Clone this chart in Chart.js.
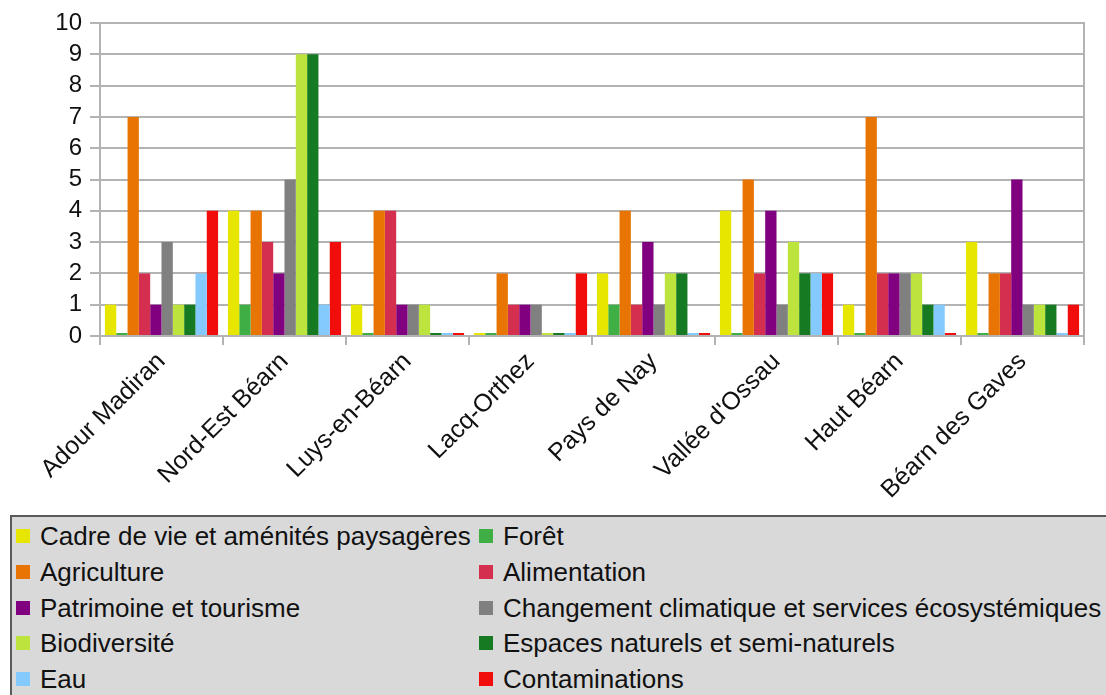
<!DOCTYPE html>
<html>
<head>
<meta charset="utf-8">
<script src="https://cdn.jsdelivr.net/npm/chart.js@4"></script>
<style>
  body { margin: 0; background: #fff; width: 1106px; height: 695px; overflow: hidden; position: relative; font-family: "Liberation Sans", Arial, sans-serif; }
  #wrap { position: absolute; left: 0; top: 0; width: 1106px; height: 512px; }
  #legend {
    position: absolute; left: 10px; top: 515px; width: 1110px; height: 200px;
    background: #d9d9d9; border: 2px solid #5a5a5a; box-sizing: border-box;
  }
  .item { position: absolute; font-size: 26px; color: #111; line-height: 30px; white-space: nowrap; }
  .item span { position: absolute; left: -24px; top: 8px; width: 14px; height: 14px; }
</style>
</head>
<body>
<div id="wrap"><canvas id="myChart"></canvas></div>
<div id="legend"></div>
<script>
const categories = ["Adour Madiran","Nord-Est Béarn","Luys-en-Béarn","Lacq-Orthez","Pays de Nay","Vallée d'Ossau","Haut Béarn","Béarn des Gaves"];

const cadreDeVie      = [1,4,1,0,2,4,1,3];
const foret           = [0,1,0,0,1,0,0,0];
const agriculture     = [7,4,4,2,4,5,7,2];
const alimentation    = [2,3,4,1,1,2,2,2];
const patrimoine      = [1,2,1,1,3,4,2,5];
const changementClim  = [3,5,1,1,1,1,2,1];
const biodiversite    = [1,9,1,0,2,3,2,1];
const espacesNaturels = [1,9,0,0,2,2,1,1];
const eau             = [2,1,0,0,0,2,1,0];
const contaminations  = [4,3,0,2,0,2,0,1];

const yTicks = [0,1,2,3,4,5,6,7,8,9,10];

const series = [
  { label: "Cadre de vie et aménités paysagères", data: cadreDeVie, color: "#e6e600" },
  { label: "Forêt", data: foret, color: "#3fae45" },
  { label: "Agriculture", data: agriculture, color: "#e87503" },
  { label: "Alimentation", data: alimentation, color: "#d52f50" },
  { label: "Patrimoine et tourisme", data: patrimoine, color: "#800080" },
  { label: "Changement climatique et services écosystémiques", data: changementClim, color: "#808080" },
  { label: "Biodiversité", data: biodiversite, color: "#bde33d" },
  { label: "Espaces naturels et semi-naturels", data: espacesNaturels, color: "#157a22" },
  { label: "Eau", data: eau, color: "#84caff" },
  { label: "Contaminations", data: contaminations, color: "#f10d0c" }
];

const gridColor = "#b3b3b3";

new Chart("myChart", {
  type: "bar",
  data: {
    labels: categories,
    datasets: series.map(s => ({
      label: s.label,
      data: s.data,
      backgroundColor: s.color,
      borderWidth: 0,
      minBarLength: 3,
      categoryPercentage: 0.92,
      barPercentage: 1.0
    }))
  },
  options: {
    responsive: true,
    maintainAspectRatio: false,
    animation: false,
    layout: { padding: { top: 23, right: 22, left: 0, bottom: 0 } },
    plugins: {
      legend: { display: false },
      tooltip: { enabled: false }
    },
    scales: {
      x: {
        grid: { drawOnChartArea: false, drawTicks: true, tickLength: 9, color: gridColor, lineWidth: 2 },
        border: { color: gridColor, width: 2 },
        ticks: {
          autoSkip: false, minRotation: 45, maxRotation: 45, padding: 2,
          color: "#111", font: { family: "Liberation Sans", size: 25 }
        },
        afterFit: s => { s.height = 176; }
      },
      y: {
        min: 0, max: 10,
        afterBuildTicks: s => { s.ticks = yTicks.map(v => ({ value: v })); },
        grid: { color: gridColor, lineWidth: 2, tickLength: 10 },
        border: { color: gridColor, width: 2 },
        ticks: {
          autoSkip: false, padding: 8, color: "#111", font: { family: "Liberation Sans", size: 24 }
        },
        afterFit: s => { s.width = 100; }
      },
      yRight: {
        position: "right",
        min: 0, max: 10,
        grid: { drawOnChartArea: false, drawTicks: false },
        border: { color: gridColor, width: 2 },
        ticks: { display: false },
        afterFit: s => { s.width = 0; }
      }
    }
  }
});

// legend box, two columns like the original
const legend = document.getElementById("legend");
series.forEach((s, i) => {
  const col = i % 2, row = Math.floor(i / 2);
  const div = document.createElement("div");
  div.className = "item";
  div.style.left = (col === 0 ? 28 : 491) + "px";
  div.style.top = (4 + row * 35.8) + "px";
  const box = document.createElement("span");
  box.style.background = s.color;
  div.appendChild(box);
  div.appendChild(document.createTextNode(s.label));
  legend.appendChild(div);
});
</script>
</body>
</html>
